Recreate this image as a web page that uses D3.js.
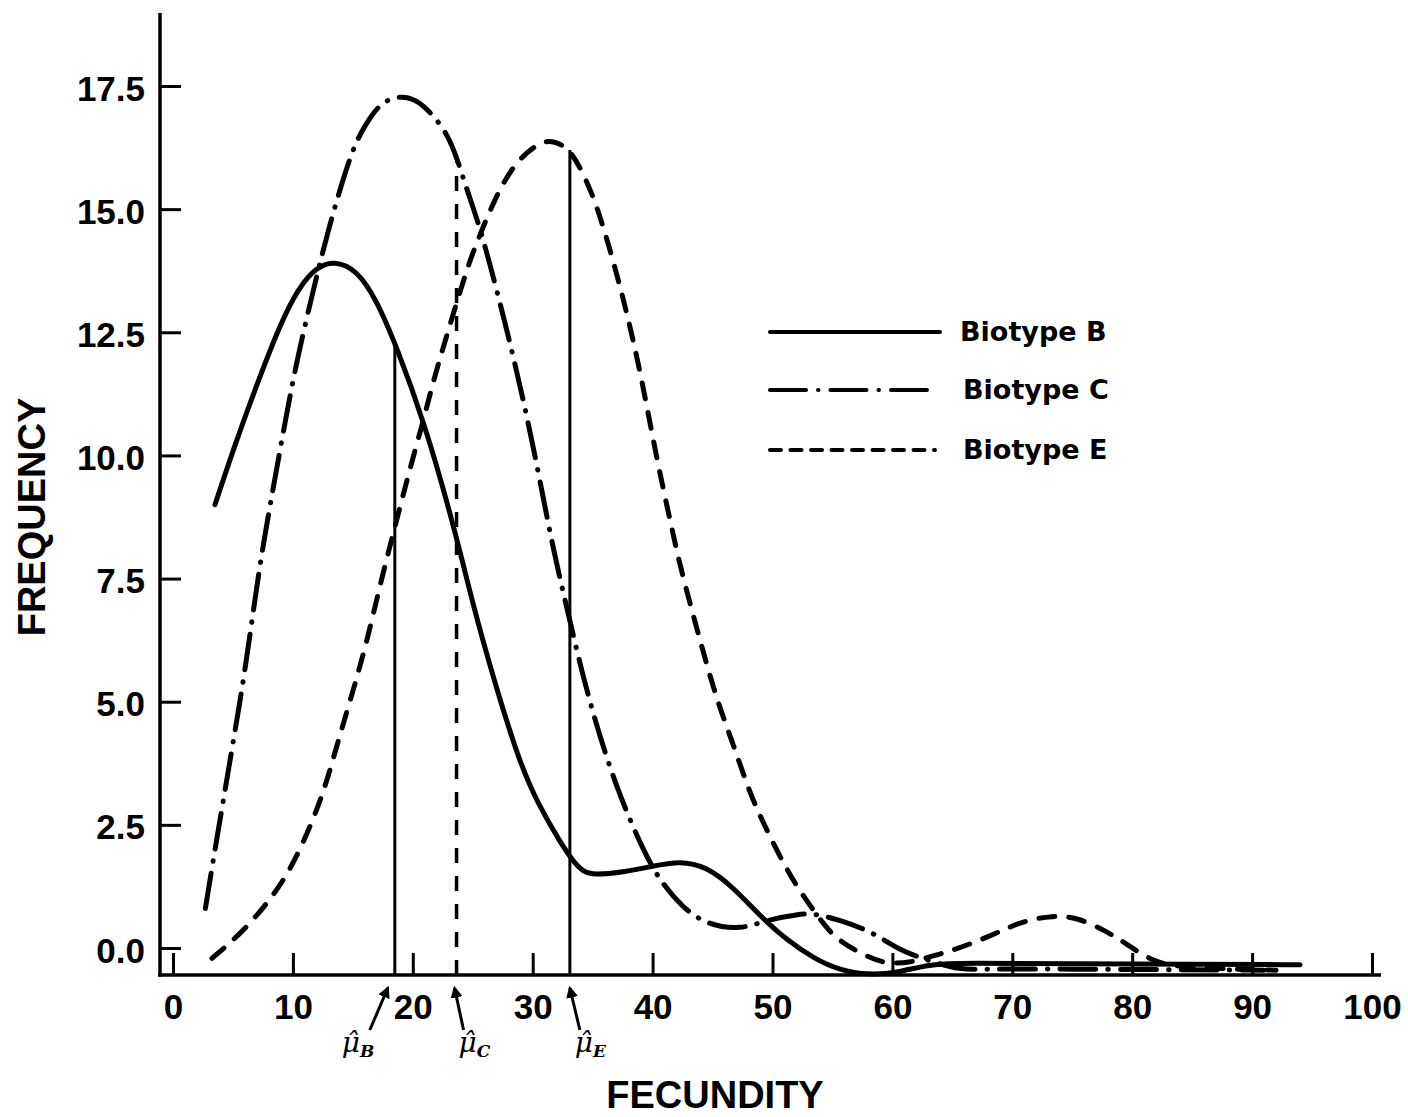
<!DOCTYPE html>
<html>
<head>
<meta charset="utf-8">
<script src="https://cdn.jsdelivr.net/npm/d3@7"></script>
<style>
  body { margin: 0; background: #fff; }
  svg { display: block; }
</style>
</head>
<body>
<script>
// fecundity / frequency readings for each biotype
var fecundB = [3.5, 5.0, 6.7, 8.9, 10.45, 12.0, 13.4, 15.3, 17.0, 18.65, 20.9, 23.4, 25.05, 26.7, 28.9, 30.6, 32.3, 33.3, 34.2, 35.05, 37.8, 39.8, 42.3, 44.5, 46.7, 49.0, 51.2, 53.5, 55.6, 58.0, 60.5, 63.0, 66.0, 75.0, 85.0, 94.0];
var freqB   = [9.0, 10.1, 11.25, 12.65, 13.4, 13.83, 13.95, 13.78, 13.15, 12.2, 10.72, 8.6, 6.93, 5.5, 3.75, 2.85, 2.15, 1.78, 1.55, 1.48, 1.55, 1.65, 1.77, 1.65, 1.24, 0.64, 0.16, -0.22, -0.45, -0.55, -0.5, -0.33, -0.3, -0.32, -0.33, -0.34];

var fecundC = [2.7, 3.4, 4.2, 5.0, 5.86, 6.56, 7.26, 8.1, 9.07, 10.2, 11.7, 13.0, 14.5, 15.3, 16.7, 17.8, 19.1, 20.3, 21.4, 22.3, 23.1, 23.8, 24.5, 25.6, 27.0, 28.4, 29.6, 30.6, 31.7, 32.9, 34.2, 35.6, 37.3, 39.4, 40.6, 42.4, 44.5, 47.4, 49.5, 52.2, 53.5, 55.6, 58.4, 60.5, 63.0, 65.6, 68.1, 75.0, 83.0, 91.0];
var freqC   = [0.8, 1.85, 3.0, 4.16, 5.4, 6.6, 7.8, 9.0, 10.3, 11.8, 13.36, 14.64, 15.86, 16.4, 16.98, 17.22, 17.3, 17.22, 16.98, 16.72, 16.4, 15.95, 15.4, 14.64, 13.36, 12.0, 10.7, 9.5, 8.1, 6.85, 5.5, 4.28, 3.05, 1.89, 1.38, 0.84, 0.47, 0.37, 0.57, 0.69, 0.7, 0.57, 0.32, -0.04, -0.25, -0.45, -0.42, -0.43, -0.44, -0.45];

var fecundE = [3.25, 5.7, 7.9, 9.8, 11.6, 12.8, 13.65, 15.04, 16.15, 17.3, 18.4, 19.8, 20.9, 21.7, 22.55, 23.4, 24.5, 25.05, 27.0, 28.7, 30.6, 31.7, 33.1, 34.2, 35.3, 36.7, 37.8, 38.95, 40.05, 40.9, 41.7, 42.3, 43.95, 45.35, 46.7, 48.1, 49.5, 51.2, 52.6, 54.0, 55.35, 57.9, 59.5, 61.5, 63.5, 64.8, 68.1, 70.6, 73.4, 75.6, 77.9, 79.3, 81.7, 84.0, 92.0];
var freqE   = [-0.21, 0.3, 0.91, 1.58, 2.54, 3.35, 4.1, 5.24, 6.2, 7.4, 8.45, 9.77, 10.72, 11.5, 12.2, 12.9, 13.76, 14.15, 15.32, 16.0, 16.36, 16.4, 16.22, 15.73, 15.12, 13.97, 12.95, 11.73, 10.31, 9.3, 8.42, 7.74, 6.25, 5.03, 4.16, 3.14, 2.4, 1.58, 1.04, 0.57, 0.16, -0.18, -0.32, -0.3, -0.15, -0.07, 0.23, 0.53, 0.67, 0.61, 0.33, 0.12, -0.28, -0.4, -0.45];

// estimated means and the height where each mean line meets its curve
var meanNames = ["B", "C", "E"];
var meanX     = [18.5, 23.65, 33.1];
var meanTop   = [12.3, 15.95, 16.2];

var xTicks = [0, 10, 20, 30, 40, 50, 60, 70, 80, 90, 100];
var yTicks = [0, 2.5, 5, 7.5, 10, 12.5, 15, 17.5];

var seriesNames = ["Biotype B", "Biotype C", "Biotype E"];

var w = 1408, h = 1117;

var x = d3.scaleLinear().domain([0, 100]).range([173, 1372]);
var y = d3.scaleLinear().domain([0, 17.5]).range([948, 86]);

var svg = d3.select("body").append("svg")
    .attr("width", w)
    .attr("height", h);

// arrow head for the mean pointers
svg.append("defs").append("marker")
    .attr("id", "head")
    .attr("viewBox", "0 0 10 10")
    .attr("refX", 8).attr("refY", 5)
    .attr("markerWidth", 4).attr("markerHeight", 4)
    .attr("markerUnits", "strokeWidth")
    .attr("orient", "auto")
  .append("path")
    .attr("d", "M0,0 L10,5 L0,10 z")
    .attr("fill", "#000");

// frame lines
var axisY = 975;
svg.append("line")
    .attr("x1", 160).attr("x2", 160)
    .attr("y1", 13).attr("y2", axisY + 1.5)
    .attr("stroke", "#000").attr("stroke-width", 3.5);
svg.append("line")
    .attr("x1", 158).attr("x2", 1381)
    .attr("y1", axisY).attr("y2", axisY)
    .attr("stroke", "#000").attr("stroke-width", 3.5);

// y axis: ticks point inwards
var yAxis = svg.append("g")
    .attr("transform", "translate(160,0)")
    .call(d3.axisLeft(y)
        .tickValues(yTicks)
        .tickFormat(d3.format(".1f"))
        .tickSize(-21)
        .tickSizeOuter(0)
        .tickPadding(15));
yAxis.select(".domain").remove();
yAxis.selectAll(".tick line").attr("stroke-width", 3);
yAxis.selectAll("text")
    .attr("font-family", "'Liberation Sans', Arial, sans-serif")
    .attr("font-weight", "bold")
    .attr("font-size", 35)
    .attr("dy", "0.4em");

// x axis
var xAxis = svg.append("g")
    .attr("transform", "translate(0," + axisY + ")")
    .call(d3.axisBottom(x)
        .tickValues(xTicks)
        .tickSize(-22)
        .tickSizeOuter(0)
        .tickPadding(19));
xAxis.select(".domain").remove();
xAxis.selectAll(".tick line").attr("stroke-width", 3);
xAxis.selectAll("text")
    .attr("font-family", "'Liberation Sans', Arial, sans-serif")
    .attr("font-weight", "bold")
    .attr("font-size", 35);

// axis titles
svg.append("text")
    .attr("transform", "translate(45,517) rotate(-90)")
    .attr("text-anchor", "middle")
    .attr("font-family", "'Liberation Sans', Arial, sans-serif")
    .attr("font-weight", "bold")
    .attr("font-size", 38)
    .text("FREQUENCY");

svg.append("text")
    .attr("x", 715).attr("y", 1108)
    .attr("text-anchor", "middle")
    .attr("font-family", "'Liberation Sans', Arial, sans-serif")
    .attr("font-weight", "bold")
    .attr("font-size", 38)
    .text("FECUNDITY");

// mean lines, drawn from the axis up to the curve
var meanDash = [null, "15,13", null];
meanX.forEach(function(m, i) {
    svg.append("line")
        .attr("x1", x(m)).attr("x2", x(m))
        .attr("y1", axisY).attr("y2", y(meanTop[i]))
        .attr("stroke", "#000")
        .attr("stroke-width", i == 1 ? 3.5 : 3)
        .attr("stroke-dasharray", meanDash[i]);
});

// the three curves
var line = d3.line()
    .x(function(d) { return x(d[0]); })
    .y(function(d) { return y(d[1]); })
    .curve(d3.curveBasis);

var curves = [
    {pts: d3.zip(fecundB, freqB), dash: null},
    {pts: d3.zip(fecundC, freqC), dash: "36,12,0.5,12"},
    {pts: d3.zip(fecundE, freqE), dash: "16,14"}
];

svg.selectAll(".curve")
    .data(curves)
    .enter()
    .append("path")
    .attr("class", "curve")
    .attr("d", function(d) { return line(d.pts); })
    .attr("fill", "none")
    .attr("stroke", "#000")
    .attr("stroke-width", 5)
    .attr("stroke-linecap", "round")
    .attr("stroke-linejoin", "round")
    .attr("stroke-dasharray", function(d) { return d.dash; });

// mean pointers under the axis
var ptrOff = [[-18, -7], [9, -2], [10, 0]];
meanX.forEach(function(m, i) {
    var tipX = x(m) + ptrOff[i][1];
    svg.append("line")
        .attr("x1", tipX + ptrOff[i][0]).attr("y1", 1030)
        .attr("x2", tipX).attr("y2", 988)
        .attr("stroke", "#000")
        .attr("stroke-width", 3)
        .attr("marker-end", "url(#head)");

    // mu hat (combining circumflex) with a subscript
    var lx = i == 0 ? x(m) - 53 : tipX + ptrOff[i][0] - 5;
    var t = svg.append("text")
        .attr("x", lx).attr("y", 1052)
        .attr("font-family", "'DejaVu Serif', 'Liberation Serif', serif")
        .attr("font-style", "italic")
        .attr("font-size", 28)
        .text("\u03bc\u0302");
    t.append("tspan")
        .attr("dy", 5)
        .attr("font-size", 17)
        .attr("font-weight", "bold")
        .text(meanNames[i]);
});

// legend
var legY = [332, 390, 450];
var legDash = [null, "36,12,0.5,12", "11,9.5"];
var legend = svg.append("g").attr("class", "legend");
seriesNames.forEach(function(name, i) {
    legend.append("line")
        .attr("x1", 770).attr("x2", i == 0 ? 940 : 935)
        .attr("y1", legY[i]).attr("y2", legY[i])
        .attr("stroke", "#000")
        .attr("stroke-width", 4)
        .attr("stroke-linecap", "round")
        .attr("stroke-dasharray", legDash[i]);
    legend.append("text")
        .attr("x", i == 0 ? 960 : 963)
        .attr("y", legY[i] + 9)
        .attr("font-family", "'DejaVu Sans', sans-serif")
        .attr("font-weight", "bold")
        .attr("font-size", 27)
        .text(name);
});
</script>
</body>
</html>
